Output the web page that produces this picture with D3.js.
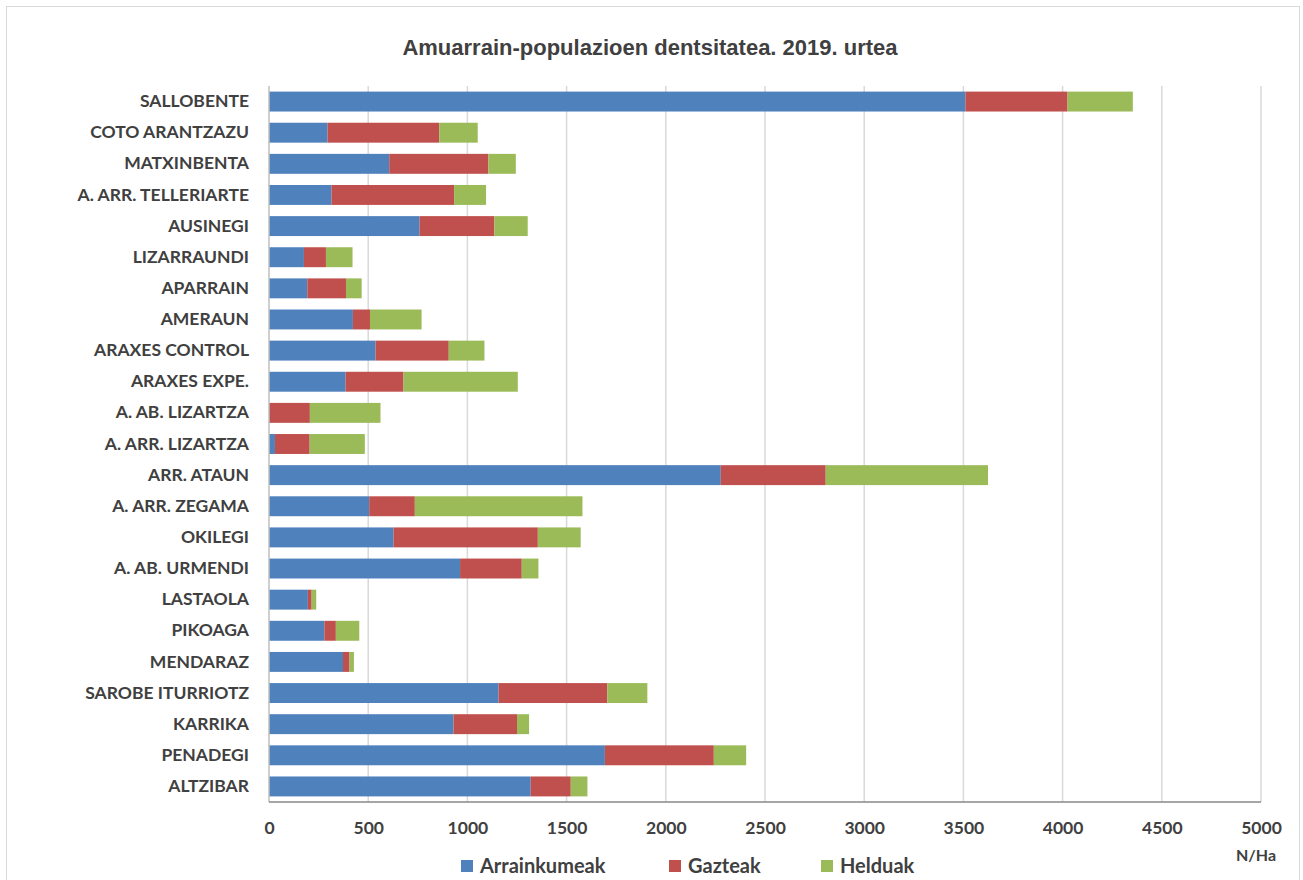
<!DOCTYPE html>
<html>
<head>
<meta charset="utf-8">
<script src="https://cdn.jsdelivr.net/npm/d3@7"></script>
<style>
  html, body { margin: 0; padding: 0; background: #fff; }
  svg { display: block; }
</style>
</head>
<body>
<svg id="chart" width="1303" height="880"></svg>
<script>
const categories = ["SALLOBENTE","COTO ARANTZAZU","MATXINBENTA","A. ARR. TELLERIARTE","AUSINEGI","LIZARRAUNDI","APARRAIN","AMERAUN","ARAXES CONTROL","ARAXES EXPE.","A. AB. LIZARTZA","A. ARR. LIZARTZA","ARR. ATAUN","A. ARR. ZEGAMA","OKILEGI","A. AB. URMENDI","LASTAOLA","PIKOAGA","MENDARAZ","SAROBE ITURRIOTZ","KARRIKA","PENADEGI","ALTZIBAR"];
const arrainkumeak = [3510, 295, 606, 315, 759, 176, 193, 423, 537, 386, 0, 30, 2277, 505, 628, 963, 196, 279, 373, 1157, 930, 1693, 1319];
const gazteak      = [515, 563, 500, 618, 377, 111, 195, 86, 369, 292, 206, 175, 529, 230, 727, 311, 19, 58, 33, 548, 320, 549, 202];
const helduak      = [329, 194, 138, 161, 168, 134, 79, 260, 180, 576, 356, 278, 818, 845, 216, 84, 23, 118, 22, 202, 61, 163, 84];
const seriesNames = ["Arrainkumeak", "Gazteak", "Helduak"];
const colors = ["#4f81bd", "#c0504d", "#9bbb59"];
const xTicks = [0, 500, 1000, 1500, 2000, 2500, 3000, 3500, 4000, 4500, 5000];
const title = "Amuarrain-populazioen dentsitatea. 2019. urtea";
const unitLabel = "N/Ha";

const svg = d3.select("#chart");
const plot = {left: 269, right: 1261, top: 86, bottom: 802};
const font = "Lato, 'Open Sans', sans-serif";

// chart border
svg.append("rect").attr("x", 6.5).attr("y", 6.5).attr("width", 1293).attr("height", 880)
  .attr("fill", "#fff").attr("stroke", "#d9d9d9").attr("stroke-width", 1);

const rows = categories.map((c, i) => ({cat: c, Arrainkumeak: arrainkumeak[i], Gazteak: gazteak[i], Helduak: helduak[i]}));

const x = d3.scaleLinear().domain([0, 5000]).range([plot.left, plot.right]);
const y = d3.scaleBand().domain(categories).range([plot.top, plot.bottom]).paddingInner(0.36).paddingOuter(0.18);

// gridlines
svg.append("g").selectAll("line").data(xTicks.slice(1)).join("line")
  .attr("x1", d => x(d)).attr("x2", d => x(d))
  .attr("y1", plot.top).attr("y2", plot.bottom)
  .attr("stroke", "#d9d9d9").attr("stroke-width", 1.5);

const stack = d3.stack().keys(seriesNames)(rows);

svg.append("g").selectAll("g").data(stack).join("g")
  .attr("fill", (d, i) => colors[i])
  .selectAll("rect").data(d => d).join("rect")
  .attr("x", d => x(d[0]))
  .attr("width", d => Math.max(0, x(d[1]) - x(d[0])))
  .attr("y", d => y(d.data.cat))
  .attr("height", y.bandwidth());

// axes lines
svg.append("line").attr("x1", plot.left).attr("x2", plot.left).attr("y1", plot.top).attr("y2", plot.bottom)
  .attr("stroke", "#bfbfbf").attr("stroke-width", 1.5);
svg.append("line").attr("x1", plot.left).attr("x2", plot.right).attr("y1", plot.bottom).attr("y2", plot.bottom)
  .attr("stroke", "#898989").attr("stroke-width", 1.5);

// x axis labels
const xAxis = d3.axisBottom(x).tickValues(xTicks).tickSize(0).tickPadding(0).tickFormat(d3.format("d"));
const gx = svg.append("g").attr("transform", `translate(0, ${plot.bottom + 22})`).call(xAxis);
gx.select(".domain").remove();
gx.selectAll("text").attr("font-family", font).attr("font-weight", "bold").attr("font-size", "17.5px")
  .attr("fill", "#404040").attr("dy", "0.35em").attr("y", 4);

// y axis labels
const yAxis = d3.axisLeft(y).tickSize(0).tickPadding(20);
const gy = svg.append("g").attr("transform", `translate(${plot.left}, 0)`).call(yAxis);
gy.select(".domain").remove();
gy.selectAll("text").attr("font-family", font).attr("font-weight", "bold").attr("font-size", "17.5px")
  .attr("fill", "#404040");

// title
svg.append("text").attr("x", 650).attr("y", 55).attr("text-anchor", "middle")
  .attr("font-family", "'Liberation Sans', Arial, sans-serif").attr("font-weight", "bold").attr("font-size", "22px")
  .attr("fill", "#404040").text(title);

// unit label
svg.append("text").attr("x", 1256).attr("y", 861).attr("text-anchor", "middle")
  .attr("font-family", font).attr("font-weight", "bold").attr("font-size", "16px")
  .attr("fill", "#404040").text(unitLabel);

// legend
const legendX = [461, 669, 821];
const lg = svg.append("g").selectAll("g").data(seriesNames).join("g")
  .attr("transform", (d, i) => `translate(${legendX[i]}, 860)`);
lg.append("rect").attr("width", 12).attr("height", 12).attr("fill", (d, i) => colors[i]);
lg.append("text").attr("x", 19).attr("y", 6).attr("dy", "0.36em")
  .attr("font-family", font).attr("font-weight", "bold").attr("font-size", "20px")
  .attr("fill", "#404040").text(d => d);
</script>
</body>
</html>
